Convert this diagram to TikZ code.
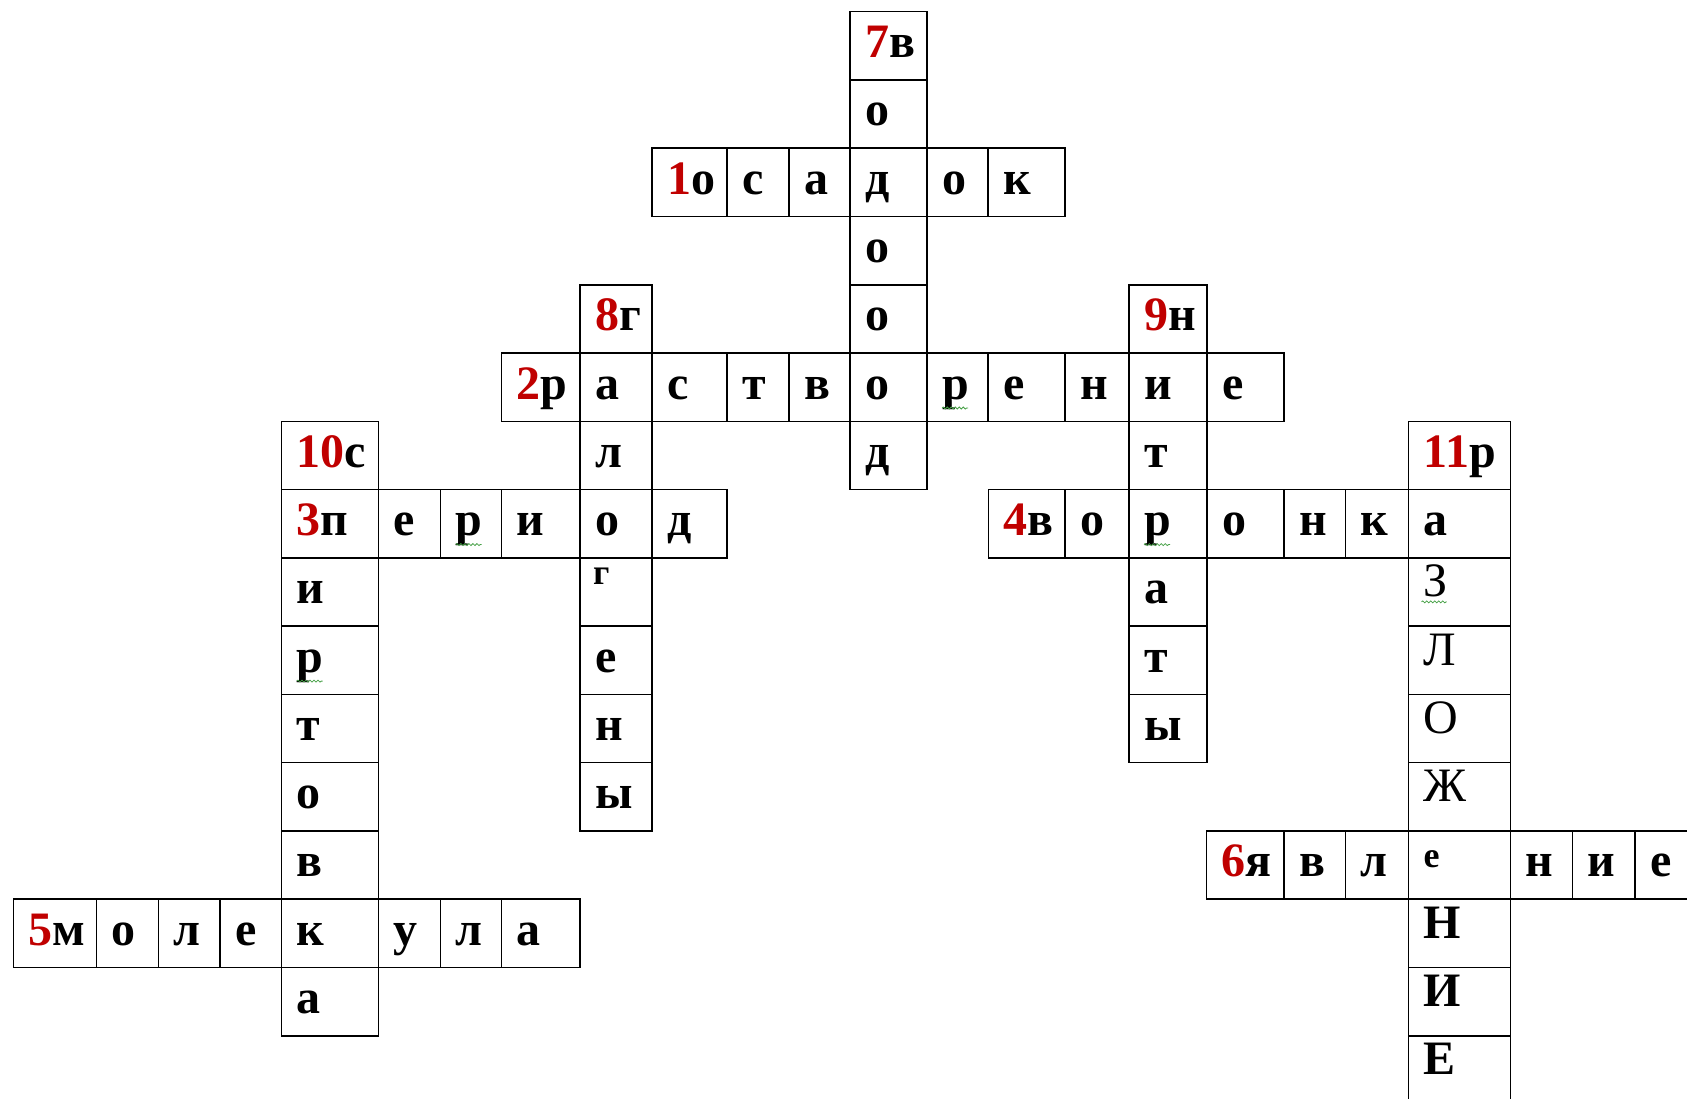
\documentclass[tikz,border=0pt]{standalone}
\usepackage{fontspec}
\setmainfont{Liberation Serif}
\usetikzlibrary{decorations.pathmorphing}

\definecolor{numred}{RGB}{192,0,0}
\definecolor{squig}{RGB}{70,160,70}
\newcommand{\nr}[1]{\textcolor{numred}{#1}}
% put a letter node only when the cell is not shared with another word
\newcommand{\ifletter}[2]{\if\relax\detokenize\expandafter{#1}\relax\else#2\fi}

\tikzset{
  cell/.style={draw=black, line width=1.5pt},
  letter/.style={anchor=base west, inner sep=0pt, font=\fontsize{48}{48}\selectfont\bfseries},
  caps/.style={letter, font=\fontsize{48}{48}\selectfont, yshift=7pt},
  capsb/.style={letter, yshift=7pt},
  small/.style={letter, font=\fontsize{36}{36}\selectfont\bfseries},
  squiggle/.style={draw=squig, line width=0.8pt, decorate,
    decoration={snake, segment length=4pt, amplitude=1pt}}
}

\begin{document}
\begin{tikzpicture}[x=1pt,y=-1pt]
  \useasboundingbox (0,0) rectangle (1687,1099);

  % 1 osadok (row 2)
  \foreach \xa/\xb/\t [count=\i] in {652/727/{\nr{1}о},727/789/с,789/850/а,850/927/д,927/988/о,988/1065/к}{
    \draw[cell] (\xa,148.24) rectangle (\xb,216.51);
    \node[letter] (osadok-\i) at (\xa+15,194.24) {\t};
  }

  % 2 rastvorenie (row 5)
  \foreach \xa/\xb/\t [count=\i] in {501.7/580/{\nr{2}р},580/652/а,652/727/с,727/789/т,789/850/в,850/927/о,927/988/р,988/1065/е,1065/1129/н,1129/1207/и,1207/1284/е}{
    \draw[cell] (\xa,353.05) rectangle (\xb,421.32);
    \node[letter] (rastvor-\i) at (\xa+15,399.05) {\t};
  }

  % 3 period (row 7)
  \foreach \xa/\xb/\t [count=\i] in {281.7/378.5/{\nr{3}п},378.5/440.7/е,440.7/501.7/р,501.7/580/и,580/652/о,652/727/д}{
    \draw[cell] (\xa,489.59) rectangle (\xb,557.86);
    \node[letter] (period-\i) at (\xa+15,535.59) {\t};
  }

  % 4 voronka (row 7)
  \foreach \xa/\xb/\t [count=\i] in {988.3/1065/{\nr{4}в},1065/1129/о,1129/1207/р,1207/1284/о,1284/1345.5/н,1345.5/1408.5/к,1408.5/1510.7/а}{
    \draw[cell] (\xa,489.59) rectangle (\xb,557.86);
    \node[letter] (voronka-\i) at (\xa+15,535.59) {\t};
  }

  % 5 molekula (row 13)
  \foreach \xa/\xb/\t [count=\i] in {13.3/96.7/{\nr{5}м},96.7/158.3/о,158.3/220/л,220/281.7/е,281.7/378.5/к,378.5/440.7/у,440.7/501.7/л,501.7/580/а}{
    \draw[cell] (\xa,899.21) rectangle (\xb,967.48);
    \node[letter] (molekula-\i) at (\xa+15,945.21) {\t};
  }

  % 6 yavlenie (row 12)
  \foreach \xa/\xb/\t [count=\i] in {1206.7/1284/{\nr{6}я},1284/1345.5/в,1345.5/1408.5/л,1408.5/1510.7/{},1510.7/1572.3/н,1572.3/1635/и,1635/1720/е}{
    \draw[cell] (\xa,830.94) rectangle (\xb,899.21);
    \ifletter{\t}{\node[letter] (yavlenie-\i) at (\xa+15,876.94) {\t};}
  }
  \node[small, yshift=9pt] (yavlenie-4) at (1423.5,876.94) {е};

  % 7 (column 850-927)
  \foreach \r/\t in {0/{\nr{7}в},1/о,2/{},3/о,4/о,5/{},6/д}{
    \draw[cell] (850,{11.7+68.27*\r}) rectangle (927,{79.97+68.27*\r});
    \ifletter{\t}{\node[letter] (col7-\r) at (865,{57.7+68.27*\r}) {\t};}
  }

  % 8 galogeny (column 580-652)
  \foreach \r/\t in {4/{\nr{8}г},5/{},6/л,7/{},8/{},9/е,10/н,11/ы}{
    \draw[cell] (580,{11.7+68.27*\r}) rectangle (652,{79.97+68.27*\r});
    \ifletter{\t}{\node[letter] (galogeny-\r) at (595,{57.7+68.27*\r}) {\t};}
  }
  \node[small, yshift=19pt] (galogeny-8) at (593,603.86) {г};

  % 9 nitraty (column 1129-1207)
  \foreach \r/\t in {4/{\nr{9}н},5/{},6/т,7/{},8/а,9/т,10/ы}{
    \draw[cell] (1129,{11.7+68.27*\r}) rectangle (1207,{79.97+68.27*\r});
    \ifletter{\t}{\node[letter] (nitraty-\r) at (1144,{57.7+68.27*\r}) {\t};}
  }

  % 10 spirtovka (column 281.7-378.5)
  \foreach \r/\t in {6/{\nr{10}с},7/{},8/и,9/р,10/т,11/о,12/в,13/{},14/а}{
    \draw[cell] (281.7,{11.7+68.27*\r}) rectangle (378.5,{79.97+68.27*\r});
    \ifletter{\t}{\node[letter] (spirtovka-\r) at (296.7,{57.7+68.27*\r}) {\t};}
  }

  % 11 razlozhenie (column 1408.5-1510.7)
  \foreach \r/\t/\s in {6/{\nr{11}р}/letter,7/{}/letter,8/З/caps,9/Л/caps,10/О/caps,11/Ж/caps,12/{}/letter,13/Н/capsb,14/И/capsb,15/Е/capsb}{
    \draw[cell] (1408.5,{11.7+68.27*\r}) rectangle (1510.7,{79.97+68.27*\r});
    \ifletter{\t}{\node[\s] (razlozh-\r) at (1423.5,{57.7+68.27*\r}) {\t};}
  }

  % spelling marks
  \draw[squiggle] ([yshift=-9pt]rastvor-7.base west) -- ++(26,0);
  \draw[squiggle] ([yshift=-9pt]period-3.base west) -- ++(26,0);
  \draw[squiggle] ([yshift=-9pt]voronka-3.base west) -- ++(26,0);
  \draw[squiggle] ([yshift=-9pt]spirtovka-9.base west) -- ++(26,0);
  \draw[squiggle] ([xshift=-2pt,yshift=-5pt]razlozh-8.base west) -- ++(25,0);
\end{tikzpicture}
\end{document}
